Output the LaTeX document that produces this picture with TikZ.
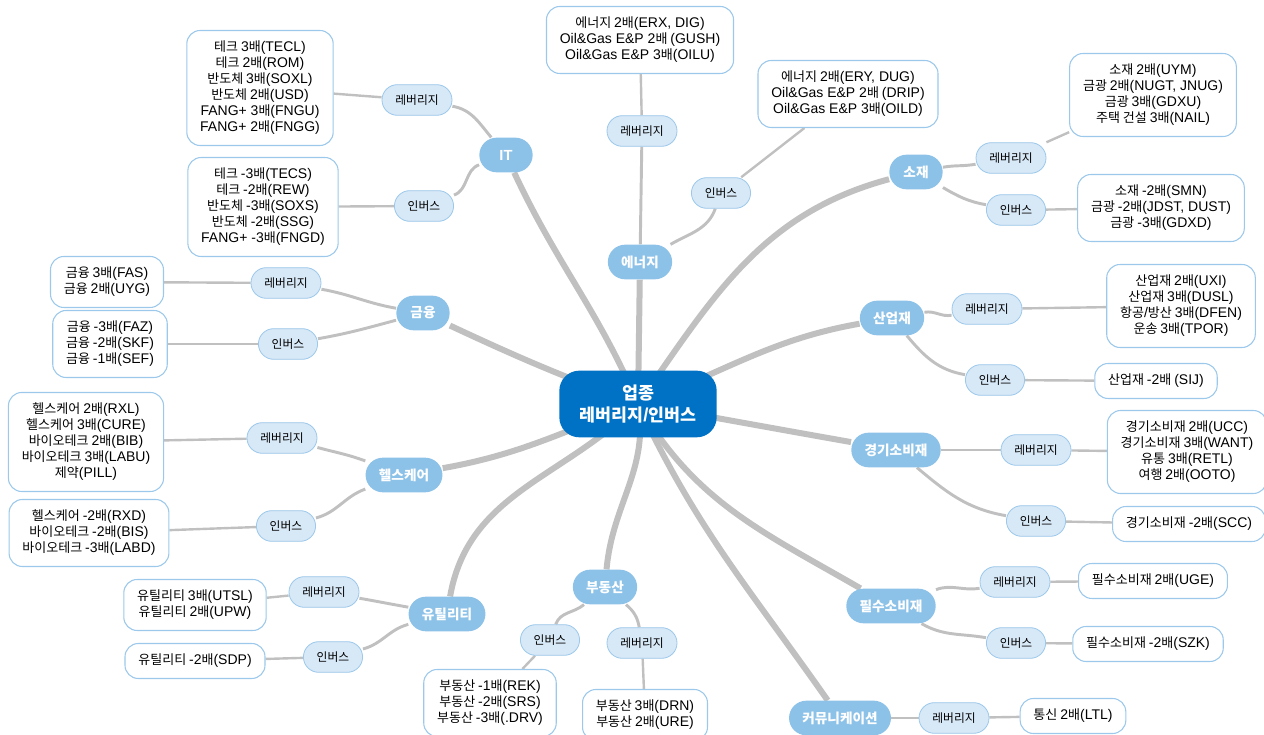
\documentclass[tikz,border=0pt]{standalone}
\usepackage{fontspec}
\setmainfont{Liberation Sans}
\newfontfamily\krfont[Scale=0.93]{Noto Sans CJK KR}
% hangul syllables switch to the korean font by themselves
\XeTeXinterchartokenstate=1
\newXeTeXintercharclass\hangulclass
\newcount\hgcnt
\hgcnt="AC00
\loop
  \XeTeXcharclass\hgcnt=\hangulclass
  \ifnum\hgcnt<"D7A3 \advance\hgcnt by 1
\repeat
\XeTeXinterchartoks 0 \hangulclass = {\krfont}
\XeTeXinterchartoks 4095 \hangulclass = {\krfont}
\XeTeXinterchartoks \hangulclass 0 = {\rmfamily}
\XeTeXinterchartoks 4095 0 = {\rmfamily}
\usetikzlibrary{backgrounds}
\definecolor{ctrblue}{RGB}{0,114,198}
\definecolor{catblue}{RGB}{141,194,232}
\definecolor{subfill}{RGB}{215,232,247}
\definecolor{boxline}{RGB}{155,200,235}
\definecolor{branchgray}{RGB}{192,192,192}

\begin{document}
\begin{tikzpicture}[x=0.75pt,y=0.75pt,
  ctrbox/.style={fill=ctrblue,text=white,rounded corners=15pt,minimum width=118pt,minimum height=50pt,align=center,font=\fontsize{14}{16.5}\selectfont\bfseries},
  catbox/.style={fill=catblue,text=white,rounded corners=13pt,minimum height=26pt,minimum width=40pt,inner xsep=10pt,font=\fontsize{11}{12}\selectfont\bfseries},
  subbox/.style={fill=subfill,draw=boxline,line width=0.6pt,rounded corners=11.5pt,minimum height=23pt,inner xsep=10pt,font=\fontsize{9.5}{11}\selectfont},
  leafbox/.style={fill=white,draw=boxline,line width=0.8pt,rounded corners=10pt,minimum height=23pt,inner xsep=10pt,inner ysep=8pt,align=center,font=\fontsize{10.5}{12}\selectfont},
  trunk/.style={draw=branchgray,line width=4.5pt},
  twig/.style={draw=branchgray,line width=2.2pt},
  leafline/.style={draw=branchgray,line width=1.8pt}]
\useasboundingbox (0,0) rectangle (1264,735);

\node[ctrbox] (ctr) at (638,331) {업종\\레버리지/인버스};

\node[catbox] (it) at (506,580) {IT};
\node[catbox] (en) at (640,473) {에너지};
\node[catbox] (so) at (916,563) {소재};
\node[catbox] (fi) at (423,422) {금융};
\node[catbox] (ind) at (892,417) {산업재};
\node[catbox] (hc) at (404,260) {헬스케어};
\node[catbox] (cd) at (896,285) {경기소비재};
\node[catbox] (ut) at (447,121) {유틸리티};
\node[catbox] (re) at (605,148) {부동산};
\node[catbox] (cs) at (891,129) {필수소비재};
\node[catbox] (cm) at (840,17) {커뮤니케이션};

\node[subbox] (itL) at (417,635) {레버리지};
\node[subbox] (itI) at (424,529) {인버스};
\node[subbox] (enL) at (642,604) {레버리지};
\node[subbox] (enI) at (721,542) {인버스};
\node[subbox] (soL) at (1011,577) {레버리지};
\node[subbox] (soI) at (1016,525) {인버스};
\node[subbox] (fiL) at (286,452) {레버리지};
\node[subbox] (fiI) at (288,391) {인버스};
\node[subbox] (indL) at (987,426) {레버리지};
\node[subbox] (indI) at (995,355) {인버스};
\node[subbox] (hcL) at (282,297) {레버리지};
\node[subbox] (hcI) at (286,209) {인버스};
\node[subbox] (cdL) at (1036,285) {레버리지};
\node[subbox] (cdI) at (1036,214) {인버스};
\node[subbox] (utL) at (324,143) {레버리지};
\node[subbox] (utI) at (333,78) {인버스};
\node[subbox] (reI) at (550,95) {인버스};
\node[subbox] (reL) at (642,92) {레버리지};
\node[subbox] (csL) at (1015,153) {레버리지};
\node[subbox] (csI) at (1016,92) {인버스};
\node[subbox] (cmL) at (954,17) {레버리지};

\node[leafbox] (itLx) at (260,647) {테크 3배(TECL)\\테크 2배(ROM)\\반도체 3배(SOXL)\\반도체 2배(USD)\\FANG+ 3배(FNGU)\\FANG+ 2배(FNGG)};
\node[leafbox] (itIx) at (263,528) {테크 -3배(TECS)\\테크 -2배(REW)\\반도체 -3배(SOXS)\\반도체 -2배(SSG)\\FANG+ -3배(FNGD)};
\node[leafbox] (enLx) at (640,695) {에너지 2배(ERX, DIG)\\Oil\&Gas E\&P 2배 (GUSH)\\Oil\&Gas E\&P 3배(OILU)};
\node[leafbox] (enIx) at (848,641) {에너지 2배(ERY, DUG)\\Oil\&Gas E\&P 2배 (DRIP)\\Oil\&Gas E\&P 3배(OILD)};
\node[leafbox] (soLx) at (1153,640) {소재 2배(UYM)\\금광 2배(NUGT, JNUG)\\금광 3배(GDXU)\\주택 건설 3배(NAIL)};
\node[leafbox] (soIx) at (1161,527) {소재 -2배(SMN)\\금광 -2배(JDST, DUST)\\금광 -3배(GDXD)};
\node[leafbox] (fiLx) at (107,453) {금융 3배(FAS)\\금융 2배(UYG)};
\node[leafbox] (fiIx) at (110,391) {금융 -3배(FAZ)\\금융 -2배(SKF)\\금융 -1배(SEF)};
\node[leafbox] (hcLx) at (86,293) {헬스케어 2배(RXL)\\헬스케어 3배(CURE)\\바이오테크 2배(BIB)\\바이오테크 3배(LABU)\\제약(PILL)};
\node[leafbox] (hcIx) at (89,202) {헬스케어 -2배(RXD)\\바이오테크 -2배(BIS)\\바이오테크 -3배(LABD)};
\node[leafbox] (indLx) at (1181,429) {산업재 2배(UXI)\\산업재 3배(DUSL)\\항공/방산 3배(DFEN)\\운송 3배(TPOR)};
\node[leafbox] (indIx) at (1156,354) {산업재 -2배 (SIJ)};
\node[leafbox] (cdLx) at (1187,283) {경기소비재 2배(UCC)\\경기소비재 3배(WANT)\\유통 3배(RETL)\\여행 2배(OOTO)};
\node[leafbox] (cdIx) at (1189,211) {경기소비재 -2배(SCC)};
\node[leafbox] (utLx) at (195,130) {유틸리티 3배(UTSL)\\유틸리티 2배(UPW)};
\node[leafbox] (utIx) at (195,74) {유틸리티 -2배(SDP)};
\node[leafbox] (reIx) at (490,32) {부동산 -1배(REK)\\부동산 -2배(SRS)\\부동산 -3배(.DRV)};
\node[leafbox] (reLx) at (645,20) {부동산 3배(DRN)\\부동산 2배(URE)};
\node[leafbox] (csLx) at (1153,154) {필수소비재 2배(UGE)};
\node[leafbox] (csIx) at (1148,91) {필수소비재 -2배(SZK)};
\node[leafbox] (cmLx) at (1073,19) {통신 2배(LTL)};

\begin{scope}[on background layer]
\path[trunk] (ctr.center) to[out=113,in=-65] (it);
\path[trunk] (ctr.center) -- (en);
\path[trunk] (ctr.center) to[out=55,in=195] (so);
\path[trunk] (ctr.center) to[out=160,in=-25] (fi);
\path[trunk] (ctr.center) to[out=20,in=190] (ind);
\path[trunk] (ctr.center) to[out=200,in=10] (hc);
\path[trunk] (ctr.center) to[out=-10,in=170] (cd);
\path[trunk] (ctr.center) to[out=225,in=80] (ut);
\path[trunk] (ctr.center) to[out=-80,in=85] (re);
\path[trunk] (ctr.center) to[out=-60,in=150] (cs);
\path[trunk] (ctr.center) to[out=-65,in=125] (cm);

\path[twig] (it) to[out=130,in=-10] (itL);
\path[twig] (it) to[out=200,in=20] (itI);
\path[twig] (en) -- (enL);
\path[twig] (en) to[out=30,in=-110] (enI);
\path[twig] (so) to[out=10,in=190] (soL);
\path[twig] (so) to[out=-30,in=170] (soI);
\path[twig] (fi) to[out=170,in=-10] (fiL);
\path[twig] (fi) to[out=195,in=10] (fiI);
\path[twig] (ind) to[out=10,in=190] (indL);
\path[twig] (ind) to[out=-50,in=170] (indI);
\path[twig] (hc) to[out=160,in=-15] (hcL);
\path[twig] (hc) to[out=200,in=15] (hcI);
\path[twig] (cd) -- (cdL);
\path[twig] (cd) to[out=-40,in=170] (cdI);
\path[twig] (ut) to[out=170,in=-10] (utL);
\path[twig] (ut) to[out=195,in=15] (utI);
\path[twig] (re) to[out=220,in=70] (reI);
\path[twig] (re) to[out=-40,in=100] (reL);
\path[twig] (cs) to[out=20,in=190] (csL);
\path[twig] (cs) to[out=-30,in=170] (csI);
\path[twig] (cm) -- (cmL);

\path[leafline] (itL) -- (itLx);
\path[leafline] (itI) -- (itIx);
\path[leafline] (enL) -- (enLx);
\path[leafline] (enI) -- (enIx);
\path[leafline] (soL) -- (soLx);
\path[leafline] (soI) -- (soIx);
\path[leafline] (fiL) -- (fiLx);
\path[leafline] (fiI) -- (fiIx);
\path[leafline] (indL) -- (indLx);
\path[leafline] (indI) -- (indIx);
\path[leafline] (hcL) -- (hcLx);
\path[leafline] (hcI) -- (hcIx);
\path[leafline] (cdL) -- (cdLx);
\path[leafline] (cdI) -- (cdIx);
\path[leafline] (utL) -- (utLx);
\path[leafline] (utI) -- (utIx);
\path[leafline] (reI) -- (reIx);
\path[leafline] (reL) -- (reLx);
\path[leafline] (csL) -- (csLx);
\path[leafline] (csI) -- (csIx);
\path[leafline] (cmL) -- (cmLx);
\end{scope}
\end{tikzpicture}
\end{document}
